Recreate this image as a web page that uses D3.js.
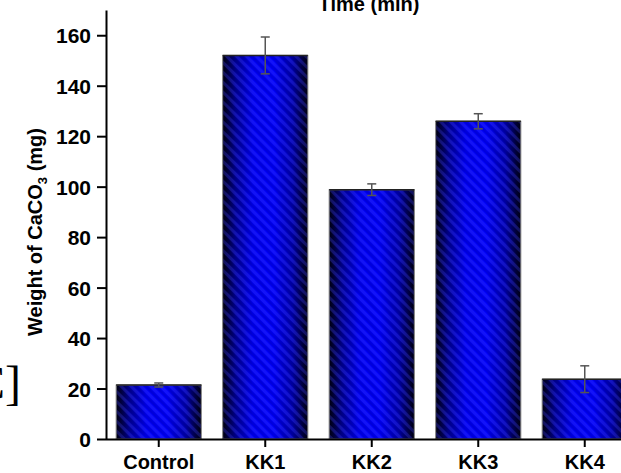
<!DOCTYPE html>
<html>
<head>
<meta charset="utf-8">
<script src="https://cdn.jsdelivr.net/npm/d3@7"></script>
<style>
  body { margin: 0; background: #fff; }
  svg { display: block; }
  .tick text { font-family: "Liberation Sans", Arial, sans-serif; font-weight: bold; font-size: 21px; fill: #000; }
</style>
</head>
<body>
<div id="chart"></div>
<script>
// values
const categories = ["Control", "KK1", "KK2", "KK3", "KK4"];
const weights = [21.4, 152.0, 98.8, 125.9, 23.7];
const errors = [0.8, 7.3, 2.3, 3.0, 5.3];
const yTicks = [0, 20, 40, 60, 80, 100, 120, 140, 160];

const width = 621, height = 473;

const svg = d3.select("#chart")
    .append("svg")
    .attr("width", width)
    .attr("height", height);

const defs = svg.append("defs");

// dark edges, bright blue middle
const grad = defs.append("linearGradient")
    .attr("id", "barGrad")
    .attr("x1", "0%").attr("x2", "100%")
    .attr("y1", "0%").attr("y2", "0%");
grad.selectAll("stop")
    .data([
        {o: "0%", c: "#00000a"},
        {o: "15%", c: "#000090"},
        {o: "35%", c: "#0000f0"},
        {o: "60%", c: "#0000f8"},
        {o: "82%", c: "#0000a8"},
        {o: "100%", c: "#00000a"}
    ])
    .join("stop")
    .attr("offset", d => d.o)
    .attr("stop-color", d => d.c);

// faint diagonal stripes
const pat = defs.append("pattern")
    .attr("id", "stripes")
    .attr("patternUnits", "userSpaceOnUse")
    .attr("width", 7)
    .attr("height", 7)
    .attr("patternTransform", "rotate(-45)");
pat.append("rect")
    .attr("width", 3).attr("height", 7)
    .attr("fill", "rgba(70,70,255,0.28)");
pat.append("rect")
    .attr("x", 4).attr("width", 2.5).attr("height", 7)
    .attr("fill", "rgba(0,0,40,0.12)");

const x = d3.scaleBand()
    .domain(categories)
    .range([105.5, 638])
    .paddingInner(0.2)
    .paddingOuter(0.1);

const y = d3.scaleLinear()
    .domain([0, 170])
    .range([439, 10]);

// bars
const bars = svg.append("g");
bars.selectAll(".bar")
    .data(categories)
    .join("rect")
    .attr("class", "bar")
    .attr("x", d => x(d))
    .attr("y", (d, i) => y(weights[i]))
    .attr("width", x.bandwidth())
    .attr("height", (d, i) => y(0) - y(weights[i]))
    .attr("fill", "url(#barGrad)")
    .attr("stroke", "#888")
    .attr("stroke-width", 1);

bars.selectAll(".hatch")
    .data(categories)
    .join("rect")
    .attr("class", "hatch")
    .attr("x", d => x(d) + 0.5)
    .attr("y", (d, i) => y(weights[i]) + 0.5)
    .attr("width", x.bandwidth() - 1)
    .attr("height", (d, i) => y(0) - y(weights[i]) - 1)
    .attr("fill", "url(#stripes)");

// top edge of each bar is darker
bars.selectAll(".top")
    .data(categories)
    .join("line")
    .attr("class", "top")
    .attr("x1", d => x(d))
    .attr("x2", d => x(d) + x.bandwidth())
    .attr("y1", (d, i) => y(weights[i]))
    .attr("y2", (d, i) => y(weights[i]))
    .attr("stroke", "#222")
    .attr("stroke-width", 1.5);

// error bars
const err = svg.append("g")
    .attr("stroke", "#555")
    .attr("stroke-width", 1.5);
categories.forEach((c, i) => {
    const cx = x(c) + x.bandwidth() / 2;
    const hi = y(weights[i] + errors[i]);
    const lo = y(weights[i] - errors[i]);
    err.append("line").attr("x1", cx).attr("x2", cx).attr("y1", hi).attr("y2", lo);
    err.append("line").attr("x1", cx - 4.5).attr("x2", cx + 4.5).attr("y1", hi).attr("y2", hi);
    err.append("line").attr("x1", cx - 4.5).attr("x2", cx + 4.5).attr("y1", lo).attr("y2", lo);
});

// axes
const yAxis = svg.append("g")
    .attr("transform", "translate(106,0)")
    .call(d3.axisLeft(y).tickValues(yTicks).tickSize(9).tickSizeOuter(0).tickPadding(6));

const xAxis = svg.append("g")
    .attr("transform", "translate(0,439)")
    .call(d3.axisBottom(x).tickSize(8).tickSizeOuter(0).tickPadding(8));

[yAxis, xAxis].forEach(a => {
    a.select(".domain").attr("stroke", "#000").attr("stroke-width", 2);
    a.selectAll(".tick line").attr("stroke", "#000").attr("stroke-width", 2);
});
yAxis.selectAll(".tick text").attr("dy", "0.36em");
xAxis.selectAll(".tick text").style("font-size", "20px");

// y label
const ylab = svg.append("text")
    .attr("transform", "translate(42,232) rotate(-90)")
    .attr("text-anchor", "middle")
    .style("font-family", "Liberation Sans, Arial, sans-serif")
    .style("font-weight", "bold")
    .style("font-size", "20px");
ylab.append("tspan").text("Weight of CaCO");
ylab.append("tspan").attr("dy", 5).style("font-size", "13px").text("3");
ylab.append("tspan").attr("dy", -5).text(" (mg)");

// title at top, cut by the frame
svg.append("text")
    .attr("x", 369)
    .attr("y", 11)
    .attr("text-anchor", "middle")
    .style("font-family", "Liberation Sans, Arial, sans-serif")
    .style("font-weight", "bold")
    .style("font-size", "20px")
    .text("Time (min)");

// panel letter, mostly cut off
svg.append("text")
    .attr("x", 21)
    .attr("y", 399)
    .attr("text-anchor", "end")
    .style("font-family", "Liberation Serif, Times New Roman, serif")
    .style("font-size", "48px")
    .text("[C]");
</script>
</body>
</html>
